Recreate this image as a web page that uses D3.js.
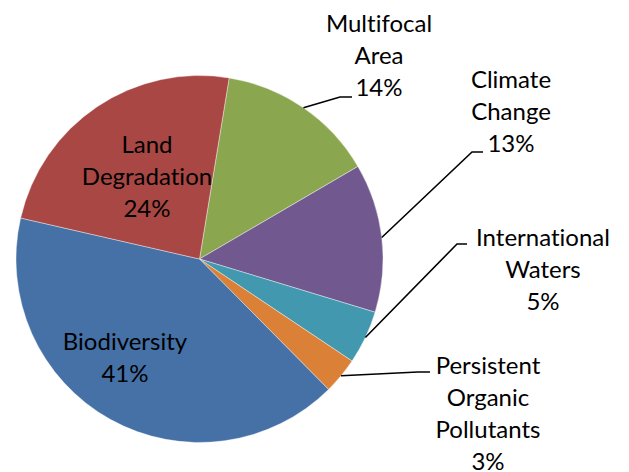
<!DOCTYPE html>
<html><head><meta charset="utf-8">
<script src="https://cdn.jsdelivr.net/npm/d3@7"></script>
<style>body{margin:0;background:#fff}svg{display:block}text{font-variant-ligatures:none;font-feature-settings:"liga" 0}</style></head>
<body>
<svg id="chart" width="629" height="472"></svg>
<script>
// ---- data ----
const categories = ["Multifocal Area", "Climate Change", "International Waters", "Persistent Organic Pollutants", "Biodiversity", "Land Degradation"];
const values = [14.0, 13.1, 4.7, 3.2, 41.0, 24.0];
const labelLines = [["Multifocal", "Area"], ["Climate", "Change"], ["International", "Waters"], ["Persistent", "Organic", "Pollutants"], ["Biodiversity"], ["Land", "Degradation"]];

// ---- styling / layout ----
const colors = ["#8AA64E", "#71598F", "#4198AF", "#DA8137", "#4571A7", "#A84743"];
const cx = 199.5, cy = 259, R = 183.5;
const startDeg = 9.3;
const fontSize = 24, lineH = 32;
// label first-baseline positions (x center, y baseline of first line)
const labelPos = [[379, 32], [511, 88], [543, 246], [488, 374], [125, 350], [147, 153]];
// leader line elbows [elbowX, elbowY, endX] (null = no leader)
const leaders = [[340, 97, 352], [472, 152, 483], [457, 244, 467], [418, 372, 430], null, null];

const svg = d3.select("#chart");
const g = svg.append("g").attr("transform", `translate(${cx},${cy})`);
const total = d3.sum(values);
const pie = d3.pie().sort(null).value(d => d)
  .startAngle(startDeg * Math.PI / 180)
  .endAngle(startDeg * Math.PI / 180 + 2 * Math.PI);
const arcs = pie(values);
const arc = d3.arc().innerRadius(0).outerRadius(R);

g.selectAll("path.slice").data(arcs).enter().append("path")
  .attr("class", "slice")
  .attr("d", arc)
  .attr("fill", (d, i) => colors[i])
  .attr("stroke", "#fff").attr("stroke-width", 0.4);

// leader lines
arcs.forEach((d, i) => {
  const L = leaders[i];
  if (!L) return;
  const a = (d.startAngle + d.endAngle) / 2;
  const x0 = cx + R * Math.sin(a), y0 = cy - R * Math.cos(a);
  svg.append("polyline")
    .attr("points", `${x0},${y0} ${L[0]},${L[1]} ${L[2]},${L[1]}`)
    .attr("fill", "none").attr("stroke", "#000").attr("stroke-width", 1.6);
});

// labels
arcs.forEach((d, i) => {
  const lines = labelLines[i].concat([Math.round(values[i] / total * 100) + "%"]);
  const t = svg.append("text")
    .attr("x", labelPos[i][0]).attr("y", labelPos[i][1])
    .attr("text-anchor", "middle")
    .attr("font-family", "Lato, 'Open Sans', sans-serif")
    .attr("font-size", fontSize)
    .attr("fill", "#000");
  lines.forEach((ln, k) => {
    t.append("tspan").attr("x", labelPos[i][0]).attr("y", labelPos[i][1] + k * lineH).text(ln);
  });
});
</script>
</body></html>
